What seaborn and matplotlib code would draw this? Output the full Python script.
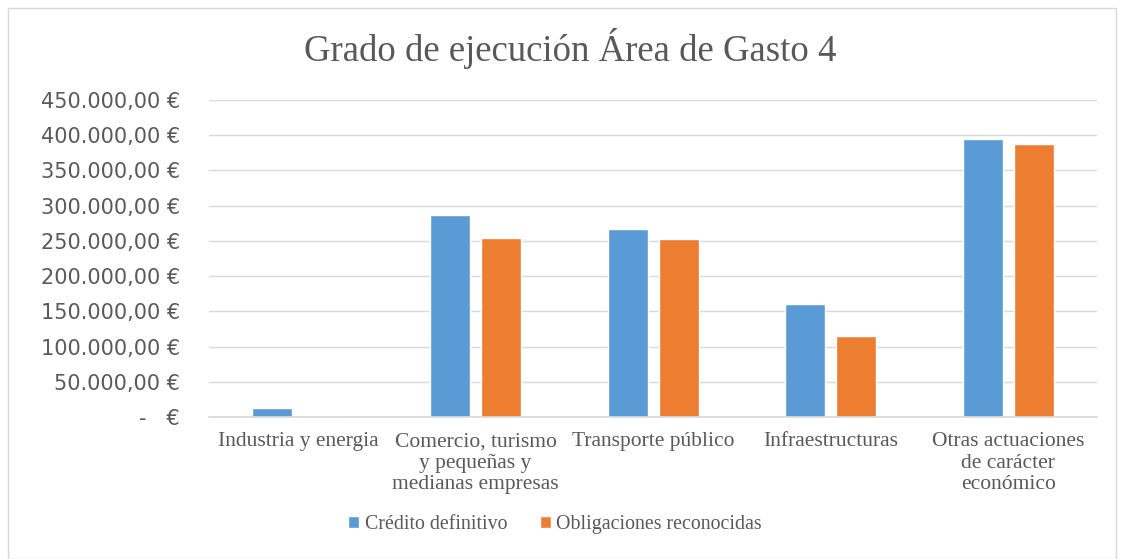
import pandas as pd
import numpy as np
import matplotlib.pyplot as plt
import seaborn as sns
from matplotlib.ticker import FuncFormatter
from matplotlib.patches import Rectangle

categorias = [
    "Industria y energia",
    "Comercio, turismo\ny pequeñas y\nmedianas empresas",
    "Transporte público",
    "Infraestructuras",
    "Otras actuaciones\nde carácter\neconómico",
]
credito_definitivo = [13000, 287500, 267000, 161000, 395000]
obligaciones_reconocidas = [0, 254000, 252500, 115000, 388000]
series = ["Crédito definitivo", "Obligaciones reconocidas"]
colores = ["#5B9BD5", "#ED7D31"]

df = pd.DataFrame({
    "Categoria": categorias * 2,
    "Serie": [series[0]] * len(categorias) + [series[1]] * len(categorias),
    "Importe": credito_definitivo + obligaciones_reconocidas,
})

sns.set_theme(style="white")
plt.rcParams["font.family"] = ["DejaVu Sans"]

fig = plt.figure(figsize=(11.24, 5.59), dpi=100)
ax = fig.add_axes([0.186, 0.254, 0.790, 0.567])

sns.barplot(
    data=df,
    x="Categoria",
    y="Importe",
    hue="Serie",
    palette=colores,
    saturation=1,
    width=0.574,
    gap=0.216,
    ax=ax,
    legend=True,
)

ax.set_ylim(0, 450000)
ax.set_yticks(np.arange(0, 450001, 50000))


def euros(v, pos):
    if v == 0:
        return "-   €"
    s = f"{v:,.2f}".replace(",", "X").replace(".", ",").replace("X", ".")
    return s + " €"


ax.yaxis.set_major_formatter(FuncFormatter(euros))
ax.grid(axis="y", color="#d9d9d9", linewidth=1)
ax.set_axisbelow(True)
for side in ["top", "right", "left"]:
    ax.spines[side].set_visible(False)
ax.spines["bottom"].set_color("#d9d9d9")
ax.tick_params(axis="y", length=0, labelsize=15, labelcolor="#595959", pad=21)
ax.tick_params(axis="x", length=0, pad=11)
ax.set_xlabel("")
ax.set_ylabel("")
for lbl in ax.get_xticklabels():
    lbl.set_family("Liberation Serif")
    lbl.set_fontsize(15.5)
    lbl.set_color("#595959")
    lbl.set_linespacing(1.17)

fig.suptitle("Grado de ejecución Área de Gasto 4", x=0.507, y=0.95,
             family="Liberation Serif", fontsize=26.5, color="#595959")

ax.legend(
    loc="center", bbox_to_anchor=(0.494, 0.062), bbox_transform=fig.transFigure,
    ncol=2, frameon=False, handlelength=0.55, handleheight=0.55,
    handletextpad=0.3, columnspacing=1.6,
    prop={"family": "Liberation Serif", "size": 14.3},
    labelcolor="#595959",
)

fig.patches.append(Rectangle((0.007, 0.0), 0.986, 0.985, transform=fig.transFigure,
                             fill=False, edgecolor="#d9d9d9", linewidth=1))

fig.savefig("out.png", dpi=100)
